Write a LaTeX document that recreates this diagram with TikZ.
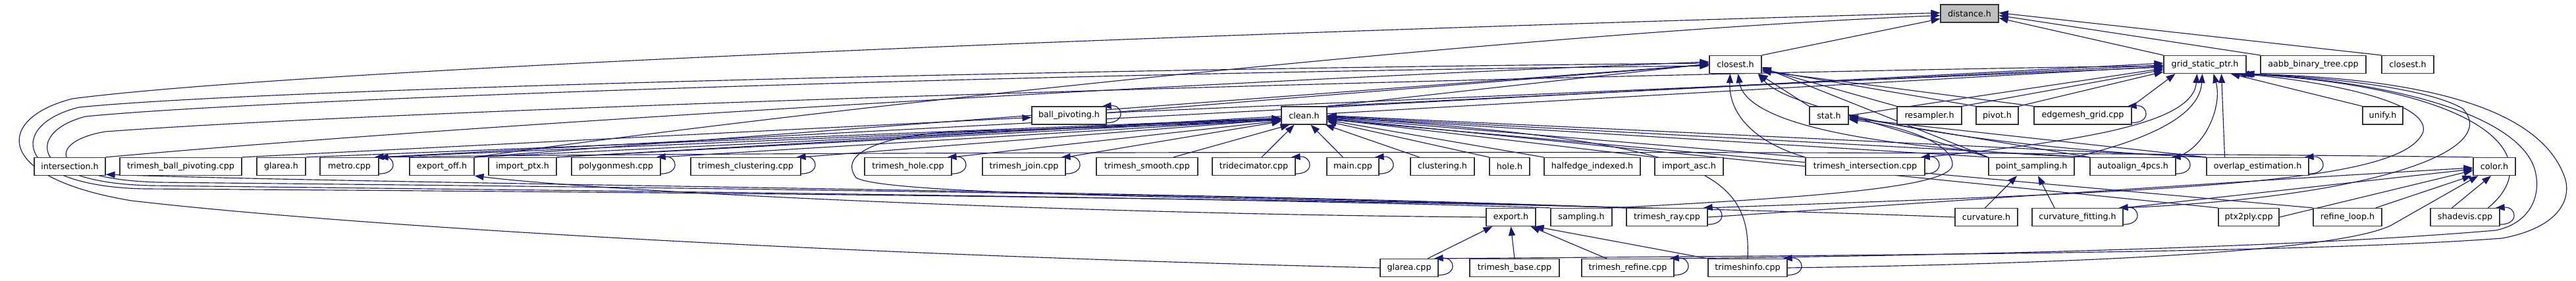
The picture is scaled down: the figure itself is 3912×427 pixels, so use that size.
\documentclass[tikz,border=0pt]{standalone}
\usepackage{fontspec}
\setmainfont{DejaVu Sans}
\usetikzlibrary{arrows.meta}
\definecolor{edgec}{HTML}{191970}
\definecolor{boxc}{HTML}{333333}
\definecolor{hubfill}{HTML}{BFBFBF}
\pgfdeclarelayer{background}
\pgfsetlayers{background,main}
\tikzset{
  box/.style={draw=boxc, line width=1.2pt, fill=white, minimum height=27pt, inner sep=0pt, font=\fontsize{12.7}{14}\selectfont},
  e/.style={draw=edgec, line width=1.15pt, -{Triangle[length=14pt,width=10pt]}},
}
\newcommand\myselfloop[1]{\draw[e] ([yshift=3pt]#1.south east) .. controls +(30,0) and +(32,-2) .. ([xshift=-7pt]#1.north east);}
\begin{document}
\begin{tikzpicture}[x=1pt,y=-1pt]
\useasboundingbox (0,0) rectangle (3912,427);
% row 0
\node[box, minimum width=88pt, fill=hubfill] (distance) at (2991,20.5) {distance.h};
% row 1
\node[box, minimum width=79pt] (closest1) at (2635.5,98) {closest.h};
\node[box, minimum width=125pt] (grid) at (3348.5,98) {grid\_static\_ptr.h};
\node[box, minimum width=160pt] (aabb) at (3513,98) {aabb\_binary\_tree.cpp};
\node[box, minimum width=79pt] (closest2) at (3656.5,98) {closest.h};
% row 2
\node[box, minimum width=113pt] (ballpiv) at (1623.5,175.5) {ball\_pivoting.h};
\node[box, minimum width=69pt] (clean) at (1980.5,175.5) {clean.h};
\node[box, minimum width=59pt] (stat) at (2777.5,175.5) {stat.h};
\node[box, minimum width=98pt] (resampler) at (2930,175.5) {resampler.h};
\node[box, minimum width=64pt] (pivot) at (3033,175.5) {pivot.h};
\node[box, minimum width=148pt] (edgegrid) at (3163,175.5) {edgemesh\_grid.cpp};
\node[box, minimum width=61pt] (unify) at (3618.5,175.5) {unify.h};
% row 3
\node[box, minimum width=108pt] (intersection) at (106,253) {intersection.h};
\node[box, minimum width=185pt] (tbp) at (274.5,253) {trimesh\_ball\_pivoting.cpp};
\node[box, minimum width=74pt] (glareah) at (427,253) {glarea.h};
\node[box, minimum width=89pt] (metro) at (530.5,253) {metro.cpp};
\node[box, minimum width=98pt] (exportoff) at (671,253) {export\_off.h};
\node[box, minimum width=103pt] (importptx) at (793.5,253) {import\_ptx.h};
\node[box, minimum width=135pt] (polygonmesh) at (935.5,253) {polygonmesh.cpp};
\node[box, minimum width=167pt] (tclust) at (1132.5,253) {trimesh\_clustering.cpp};
\node[box, minimum width=132pt] (thole) at (1379,253) {trimesh\_hole.cpp};
\node[box, minimum width=126pt] (tjoin) at (1555,253) {trimesh\_join.cpp};
\node[box, minimum width=154pt] (tsmooth) at (1742,253) {trimesh\_smooth.cpp};
\node[box, minimum width=126pt] (tridec) at (1904,253) {tridecimator.cpp};
\node[box, minimum width=79pt] (main) at (2054.5,253) {main.cpp};
\node[box, minimum width=97pt] (clusteringh) at (2190.5,253) {clustering.h};
\node[box, minimum width=61pt] (holeh) at (2292.5,253) {hole.h};
\node[box, minimum width=146pt] (halfedge) at (2418,253) {halfedge\_indexed.h};
\node[box, minimum width=104pt] (importasc) at (2565,253) {import\_asc.h};
\node[box, minimum width=181pt] (tinter) at (2832.5,253) {trimesh\_intersection.cpp};
\node[box, minimum width=130pt] (psampling) at (3085,253) {point\_sampling.h};
\node[box, minimum width=130pt] (autoalign) at (3239,253) {autoalign\_4pcs.h};
\node[box, minimum width=155pt] (overlap) at (3428.5,253) {overlap\_estimation.h};
\node[box, minimum width=64pt] (color) at (3788,253) {color.h};
% row 4
\node[box, minimum width=75pt] (exporth) at (2294.5,330) {export.h};
\node[box, minimum width=93pt] (sampling) at (2401.5,330) {sampling.h};
\node[box, minimum width=123pt] (tray) at (2531.5,330) {trimesh\_ray.cpp};
\node[box, minimum width=95pt] (curvature) at (3016.5,330) {curvature.h};
\node[box, minimum width=138pt] (curvfit) at (3155,330) {curvature\_fitting.h};
\node[box, minimum width=92pt] (ptx2ply) at (3415,330) {ptx2ply.cpp};
\node[box, minimum width=104pt] (refineloop) at (3565,330) {refine\_loop.h};
\node[box, minimum width=105pt] (shadevis) at (3743.5,330) {shadevis.cpp};
% row 5
\node[box, minimum width=88pt] (glareacpp) at (2140,407) {glarea.cpp};
\node[box, minimum width=136pt] (tbase) at (2300,407) {trimesh\_base.cpp};
\node[box, minimum width=140pt] (trefine) at (2472,407) {trimesh\_refine.cpp};
\node[box, minimum width=120pt] (tinfo) at (2654,407) {trimeshinfo.cpp};

\begin{pgfonlayer}{background}
% ---- into distance.h
\draw[e] (closest1.north east) -- ([yshift=-8pt]distance.west);
\draw[e] (grid.north west) -- ([yshift=-7pt]distance.east);
\draw[e] (aabb.north west) -- ([yshift=-3pt]distance.east);
\draw[e] (closest2.north west) -- ([yshift=1pt]distance.east);
\draw[e] (glareacpp.west) .. controls (1200,385) and (500,340) .. (200,305) .. controls (-12,270) and (-8,180) .. (110,150) .. controls (400,112) and (1500,60) .. ([yshift=1pt]distance.west);
\draw[e] (exportoff.north east) .. controls (1200,170) and (2300,50) .. ([yshift=-3pt]distance.west);
% ---- left loops
\draw[e] (curvature.west) .. controls (2200,300) and (700,290) .. (220,287) .. controls (20,283) and (10,190) .. (120,163) .. controls (400,135) and (1600,105) .. ([yshift=2pt]closest1.west);
\draw[e] (sampling.north west) .. controls (1800,298) and (700,288) .. (230,282) .. controls (40,278) and (40,200) .. (130,177) .. controls (400,150) and (1600,110) .. ([yshift=-2pt]closest1.west);
\draw[e] (tray.north west) .. controls (1800,292) and (700,282) .. (240,277) .. controls (70,272) and (70,215) .. (160,200) .. controls (700,160) and (2500,110) .. ([yshift=-2pt]grid.west);
\draw[e] (tray.north west) .. controls (1800,290) and (600,280) .. ([yshift=2pt]intersection.south east);
\draw[e] (intersection.north east) .. controls (700,190) and (1800,125) .. ([yshift=4pt]closest1.west);
\draw[e] (tray.north west) .. controls (2000,300) and (1350,300) .. (1300,270) .. controls (1270,230) and (1350,205) .. (1450,200) .. controls (1600,196) and (1800,190) .. ([yshift=-7pt]clean.west);
% ---- closest.h (left)
\draw[e] (exportoff.north east) -- (closest1.west);
\draw[e] ([yshift=4pt]ballpiv.east) -- (closest1.west);
\draw[e] (clean.north east) -- ([yshift=1pt]closest1.west);
% ---- closest.h (right / bottom)
\draw[e] (stat.north west) -- ([xshift=-5pt]closest1.south east);
\draw[e] (resampler.north west) -- ([yshift=-6pt]closest1.east);
\draw[e] (pivot.north west) -- ([yshift=-8pt]closest1.east);
\draw[e] (edgegrid.north west) -- ([yshift=-10pt]closest1.east);
\draw[e] (psampling.north west) -- ([yshift=-4pt]closest1.east);
\draw[e] (tinter.north west) .. controls (2660,215) and (2625,170) .. ([xshift=-8pt]closest1.south);
\draw[e] (autoalign.north west) .. controls (2800,225) and (2650,180) .. ([xshift=4pt]closest1.south);
\draw[e] (overlap.north west) .. controls (3000,225) and (2720,170) .. ([xshift=-6pt]closest1.south east);
% ---- grid_static_ptr.h
\draw[e] ([yshift=4pt]ballpiv.east) -- ([yshift=-4pt]grid.west);
\draw[e] (clean.north east) -- ([yshift=-1pt]grid.west);
\draw[e] (metro.north east) -- ([yshift=2pt]grid.west);
\draw[e] (importptx.north east) -- ([yshift=-3pt]grid.west);
\draw[e] (stat.east) -- ([yshift=-6pt]grid.west);
\draw[e] (resampler.north east) -- ([yshift=-8pt]grid.west);
\draw[e] (pivot.north east) -- ([yshift=-11pt]grid.west);
\draw[e] (edgegrid.north east) -- ([xshift=-45pt]grid.south);
\draw[e] (tinter.north east) .. controls (3150,215) and (3330,190) .. ([xshift=-12pt]grid.south);
\draw[e] (psampling.north east) .. controls (3250,215) and (3340,180) .. ([xshift=-4pt]grid.south);
\draw[e] (autoalign.north east) .. controls (3350,225) and (3375,160) .. ([xshift=13pt]grid.south);
\draw[e] ([xshift=-50pt]overlap.north) -- ([xshift=25pt]grid.south);
\draw[e] (unify.north west) -- ([xshift=-24pt]grid.south east);
\draw[e] ([xshift=35pt]shadevis.north) .. controls (3870,240) and (3780,135) .. ([xshift=-6pt]grid.south east);
\draw[e] (glareacpp.north east) .. controls (2800,388) and (3500,385) .. (3800,362) .. controls (3890,345) and (3905,300) .. (3895,270) .. controls (3860,170) and (3700,120) .. ([xshift=-2pt]grid.south east);
\draw[e] (trefine.north east) .. controls (3000,388) and (3500,375) .. (3790,350) .. controls (3840,340) and (3860,300) .. (3850,260) .. controls (3830,180) and (3650,125) .. ([xshift=-4pt]grid.south east);
\draw[e] (curvfit.north east) .. controls (3600,300) and (3800,230) .. (3740,165) .. controls (3680,130) and (3500,115) .. ([xshift=-10pt]grid.south east);
\draw[e] (tray.north east) .. controls (3300,290) and (3650,280) .. (3680,200) .. controls (3690,150) and (3500,120) .. ([xshift=-14pt]grid.south east);
% ---- ball_pivoting.h
\draw[e] (tbp.north east) -- ([yshift=-3pt]ballpiv.west);
% ---- clean.h left
\draw[e] (glareah.north east) -- ([yshift=-4pt]clean.west);
\draw[e] (metro.north east) -- ([yshift=-5pt]clean.west);
\draw[e] (exportoff.north east) -- ([yshift=-4pt]clean.west);
\draw[e] (importptx.north east) -- ([yshift=-5pt]clean.west);
\draw[e] (polygonmesh.north east) -- ([yshift=-6pt]clean.west);
\draw[e] (tclust.north east) -- ([yshift=-6pt]clean.west);
\draw[e] (thole.north east) -- ([yshift=-8pt]clean.west);
\draw[e] (tjoin.north east) -- ([yshift=-9pt]clean.west);
% ---- clean.h bottom
\draw[e] ([xshift=40pt]tsmooth.north) -- ([xshift=-22pt]clean.south);
\draw[e] ([xshift=12pt]tridec.north) -- ([xshift=-15pt]clean.south);
\draw[e] ([xshift=-15pt]main.north) -- ([xshift=10pt]clean.south);
\draw[e] ([xshift=-35pt]clusteringh.north) -- ([xshift=-3pt]clean.south east);
% ---- clean.h right
\draw[e] (holeh.north west) -- ([yshift=-9pt]clean.east);
\draw[e] (halfedge.north west) -- ([yshift=-7pt]clean.east);
\draw[e] (importasc.north west) -- ([yshift=-5pt]clean.east);
\draw[e] (tinter.north west) -- ([yshift=-3pt]clean.east);
\draw[e] (psampling.north west) -- ([yshift=-2pt]clean.east);
\draw[e] (autoalign.north west) -- ([yshift=-1pt]clean.east);
\draw[e] (overlap.north west) -- (clean.east);
\draw[e] (ptx2ply.north west) -- ([yshift=-4pt]clean.east);
\draw[e] (refineloop.north west) -- ([yshift=-6pt]clean.east);
\draw[e] (tinfo.north) .. controls (2660,260) and (2580,215) .. ([yshift=-2pt]clean.east);
% ---- stat.h
\draw[e] (psampling.north west) -- (stat.east);
\draw[e] (autoalign.north west) -- ([yshift=-2pt]stat.east);
\draw[e] (overlap.north west) -- ([yshift=-4pt]stat.east);
\draw[e] (sampling.north east) .. controls (2750,300) and (2965,285) .. (2965,250) .. controls (2965,215) and (2880,190) .. ([yshift=-6pt]stat.east);
% ---- metro / export_off / export.h
\draw[e] (color.north west) .. controls (3000,228) and (1200,230) .. (metro.north east);
\draw[e] (exporth.west) .. controls (1600,325) and (900,290) .. (exportoff.south east);
\draw[e] ([xshift=28pt]glareacpp.north) -- ([xshift=-28pt]exporth.south);
\draw[e] (tbase.north) -- (exporth.south);
\draw[e] ([xshift=-32pt]trefine.north) -- ([xshift=-8pt]exporth.south east);
\draw[e] (tinfo.north west) -- ([xshift=-2pt]exporth.south east);
% ---- point_sampling.h
\draw[e] ([xshift=-2pt]curvature.north) -- ([xshift=-22pt]psampling.south);
\draw[e] ([xshift=-35pt]curvfit.north) -- ([xshift=10pt]psampling.south);
% ---- color.h
\draw[e] (tray.east) .. controls (2900,310) and (3400,275) .. ([yshift=-2pt]color.west);
\draw[e] (curvfit.north east) -- ([yshift=-4pt]color.west);
\draw[e] (ptx2ply.east) -- ([yshift=-6pt]color.west);
\draw[e] ([xshift=-10pt]refineloop.north east) -- ([xshift=-2pt]color.south west);
\draw[e] ([xshift=-20pt]shadevis.north) -- ([xshift=-5pt]color.south);
\draw[e] (tinfo.east) .. controls (3200,400) and (3550,380) .. (3630,343) -- ([xshift=8pt]color.south west);
% ---- self loops
\myselfloop{ballpiv}
\myselfloop{metro}
\myselfloop{polygonmesh}
\myselfloop{tclust}
\myselfloop{thole}
\myselfloop{tjoin}
\myselfloop{tridec}
\myselfloop{main}
\myselfloop{tinter}
\myselfloop{edgegrid}
\myselfloop{autoalign}
\myselfloop{overlap}
\myselfloop{tray}
\myselfloop{curvfit}
\myselfloop{shadevis}
\myselfloop{glareacpp}
\myselfloop{trefine}
\myselfloop{tinfo}
\end{pgfonlayer}
\end{tikzpicture}
\end{document}
